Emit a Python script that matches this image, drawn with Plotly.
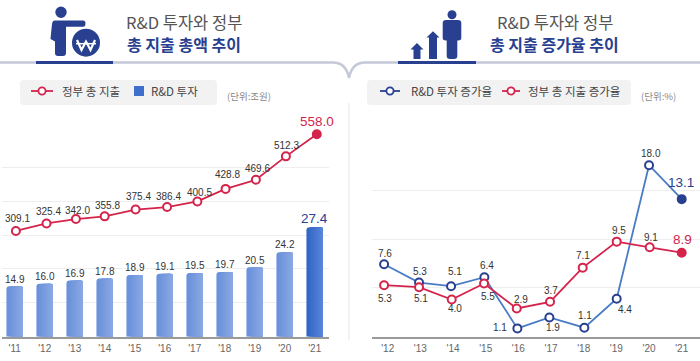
import plotly.graph_objects as go

# ---------- data ----------
years_left = [2011, 2012, 2013, 2014, 2015, 2016, 2017, 2018, 2019, 2020, 2021]
ticks_left = ["'11", "'12", "'13", "'14", "'15", "'16", "'17", "'18", "'19", "'20", "'21"]
invest_labels = ["14.9", "16.0", "16.9", "17.8", "18.9", "19.1", "19.5", "19.7", "20.5", "24.2", "27.4"]
invest_drawn = [14.85, 15.6, 16.6, 17.2, 18.2, 18.6, 18.8, 19.1, 20.45, 24.9, 32.3]
spend_labels = ["309.1", "325.4", "342.0", "355.8", "375.4", "386.4", "400.5", "428.8", "469.6", "512.3", "558.0"]
spend_drawn = [312, 334, 347, 355, 375, 382.5, 399, 436, 463, 532, 597]
spend_x = [2011.04, 2012.06, 2013.04, 2014.0, 2015.03, 2016.08, 2017.09, 2018.03, 2019.04, 2020.04, 2021.07]

years_right = [2012, 2013, 2014, 2015, 2016, 2017, 2018, 2019, 2020, 2021]
ticks_right = ["'12", "'13", "'14", "'15", "'16", "'17", "'18", "'19", "'20", "'21"]
rd_rate_labels = ["7.6", "5.3", "5.1", "6.4", "1.1", "1.9", "1.1", "4.4", "18.0", "13.1"]
rd_rate_drawn = [7.41, 5.54, 5.17, 6.09, 0.85, 1.97, 0.92, 3.88, 17.55, 14.08]
rd_rate_x = [2011.89, 2012.96, 2013.94, 2014.96, 2015.97, 2016.95, 2018.02, 2019.01, 2020.0, 2021.0]
gov_rate_labels = ["5.3", "5.1", "4.0", "5.5", "2.9", "3.7", "7.1", "9.5", "9.1", "8.9"]
gov_rate_drawn = [5.27, 5.07, 3.81, 5.44, 2.89, 3.57, 7.07, 9.73, 9.15, 8.6]
gov_rate_x = [2011.89, 2012.96, 2013.96, 2014.95, 2015.95, 2016.97, 2017.97, 2019.01, 2020.02, 2021.0]

# ---------- styles ----------
W, H = 700, 361
RED, NAVY, BLUE = "#d4244c", "#28408f", "#4a7cc6"
GRID, AXIS, TICK, DARK = "#eeeeee", "#9a9a9a", "#666666", "#333333"
RULE = "#c3c9d6"
KR = "Noto Sans CJK KR"
NUM = "Liberation Sans"

fig = go.Figure()


def mix(a, b, t):
    return "rgb(%d,%d,%d)" % tuple(a[i] + (b[i] - a[i]) * t for i in range(3))


# bars: soft left-to-right gradient built from overlapping layers
BAR_W, LAYERS = 0.55, 7
for k in range(LAYERS):
    t = k / (LAYERS - 1)
    colors = [mix((106, 145, 219), (137, 167, 227), t)] * (len(years_left) - 1)
    colors.append(mix((50, 101, 197), (88, 132, 217), t))
    shift = BAR_W * k / LAYERS
    fig.add_trace(go.Bar(x=years_left, y=invest_drawn, width=BAR_W - shift, offset=-BAR_W / 2 + shift,
                         marker=dict(color=colors, line_width=0), xaxis="x", yaxis="y",
                         name="R&D 투자", showlegend=False, hoverinfo="skip"))


def line(x, y, color, mark, xa, ya, name):
    fills = ["white"] * (len(y) - 1) + [mark]
    fig.add_trace(go.Scatter(x=x, y=y, mode="lines+markers", xaxis=xa, yaxis=ya, name=name, showlegend=False,
                             line=dict(color=color, width=1.8), cliponaxis=False,
                             marker=dict(size=8, color=fills, line=dict(color=mark, width=2))))


line(spend_x, spend_drawn, RED, RED, "x", "y3", "정부 총 지출")
line(rd_rate_x, rd_rate_drawn, BLUE, NAVY, "x2", "y2", "R&D 투자 증가율")
line(gov_rate_x, gov_rate_drawn, RED, RED, "x2", "y2", "정부 총 지출 증가율")

ann = []


def txt(x, y, s, size=10, color=DARK, font=NUM, anchor="center", bold=False):
    ann.append(dict(x=x / W, y=1 - y / H, xref="paper", yref="paper", text=f"<b>{s}</b>" if bold else s,
                    showarrow=False, xanchor=anchor, yanchor="middle",
                    font=dict(size=size, color=color, family=font)))


def dlabel(x, y, s, xa, ya, dx, dy, size=10, color=DARK):
    ann.append(dict(x=x, y=y, xref=xa, yref=ya, text=s, showarrow=False, xanchor="center", yanchor="middle",
                    xshift=dx, yshift=dy, font=dict(size=size, color=color, family=NUM)))


# left chart labels
spend_dy = [12.7, 12, 9, 10.7, 13, 11, 9.3, 14.3, 11.7, 11, 12.7]
spend_dx = [1.3, 2, 1.7, 2.7, 2.7, 1, 1.7, 1.7, 1.3, 0.7, 0]
for i, s in enumerate(spend_labels):
    last = i == len(spend_labels) - 1
    dlabel(spend_x[i], spend_drawn[i], s, "x", "y3", spend_dx[i], spend_dy[i],
           13.5 if last else 10, RED if last else DARK)
for i, s in enumerate(invest_labels):
    last = i == len(invest_labels) - 1
    dlabel(years_left[i], invest_drawn[i], s, "x", "y", 0, 9 if last else 7.3,
           13.5 if last else 10, NAVY if last else DARK)

# right chart labels
rd_dx = [1, 0.7, 4.3, 3, -17.7, 3.3, 0.3, 8.3, 1.7, -0.7]
rd_dy = [11.3, 11, 14.3, 11.7, 1.3, -10, 12, -11, 11.3, 16.7]
gov_dx = [1, 1.7, 3.3, 4, 4, 1, 0, 2.7, 1.3, 0.7]
gov_dy = [-13.3, -11, -8.7, -13.3, 9.3, 11.3, 11.7, 10.7, 9.7, 13.3]
for i, s in enumerate(rd_rate_labels):
    last = i == len(rd_rate_labels) - 1
    dlabel(rd_rate_x[i], rd_rate_drawn[i], s, "x2", "y2", rd_dx[i], rd_dy[i],
           13.5 if last else 10, NAVY if last else DARK)
for i, s in enumerate(gov_rate_labels):
    last = i == len(gov_rate_labels) - 1
    dlabel(gov_rate_x[i], gov_rate_drawn[i], s, "x2", "y2", gov_dx[i], gov_dy[i],
           13.5 if last else 10, RED if last else DARK)

# headers
txt(184, 22.5, "R&D 투자와 정부", 16.5, "#555555", KR)
txt(184, 44, "총 지출 총액 추이", 16, NAVY, KR, bold=True)
txt(554.5, 22.5, "R&D 투자와 정부", 16.5, "#555555", KR)
txt(554.5, 44, "총 지출 증가율 추이", 16, NAVY, KR, bold=True)

# legends
txt(60, 91, "정부 총 지출", 11.5, "#444444", KR, "left")
txt(149, 91, "R&D 투자", 11.5, "#444444", KR, "left")
txt(225, 96, "(단위:조원)", 9.5, "#888888", KR, "left")
txt(409, 91, "R&D 투자 증가율", 11.5, "#444444", KR, "left")
txt(526, 91, "정부 총 지출 증가율", 11.5, "#444444", KR, "left")
txt(639, 96, "(단위:%)", 9.5, "#888888", KR, "left")

shapes = []


def px(x, y):
    return f"{x / W:.5f},{1 - y / H:.5f}"


def path(d, fill=None, color=None, width=0, layer="above"):
    out = []
    for tok in d.split():
        if "," in tok:
            a, b = tok.split(",")
            out.append(px(float(a), float(b)))
        else:
            out.append(tok)
    s = dict(type="path", xref="paper", yref="paper", path=" ".join(out), layer=layer,
             line=dict(color=color or "rgba(0,0,0,0)", width=width))
    if fill:
        s["fillcolor"] = fill
    shapes.append(s)


def circle(cx, cy, rx, ry=None, fill="white", color=None, width=0):
    ry = ry or rx
    shapes.append(dict(type="circle", xref="paper", yref="paper", x0=(cx - rx) / W, x1=(cx + rx) / W,
                       y0=1 - (cy + ry) / H, y1=1 - (cy - ry) / H, fillcolor=fill,
                       line=dict(color=color or "rgba(0,0,0,0)", width=width)))


# header rule with notch
path("M 0,62.5 L 333,62.5 Q 346,62.5 349,78 Q 352,62.5 365,62.5 L 700,62.5", None, RULE, 2.4)
path("M 36,62.5 L 113,62.5", None, NAVY, 3)
path("M 398,62.5 L 476,62.5", None, NAVY, 3)
path("M 349,103 L 349,340", None, "#e6e6e6", 1)

# legend boxes
path("M 24,80 L 213,80 Q 217,80 217,84 L 217,101 Q 217,105 213,105 L 24,105 Q 20,105 20,101 L 20,84 Q 20,80 24,80 Z",
     "#f2f2f3", layer="below")
path("M 371,80 L 627,80 Q 631,80 631,84 L 631,101 Q 631,105 627,105 L 371,105 Q 367,105 367,101 L 367,84 Q 367,80 371,80 Z",
     "#f2f2f3", layer="below")
for x0, x1, c in [(31, 53, RED), (380, 400, NAVY), (502, 520, RED)]:
    path(f"M {x0},91 L {x1},91", None, c, 1.8)
    circle((x0 + x1) / 2, 91, 3.6, fill="white", color=c, width=1.8)
path("M 134,86 L 144,86 L 144,96 L 134,96 Z", "#3d6fcb")

# person + coin icon
circle(61, 12.3, 5.7, fill=NAVY)
path("M 55,20.5 L 83,20.5 Q 85.5,20.5 85.5,23.5 Q 85.5,26.7 83,26.7 L 66,26.7 L 66,53 Q 66,56 63,56 "
     "L 58,56 Q 55,56 55,53 L 55,41.5 L 50.5,39 L 52,24 Q 52.5,20.5 55,20.5 Z", NAVY)
circle(86, 42.7, 15.5, fill="white")
circle(86, 42.7, 14, fill=NAVY)
path("M 77,40 L 81.5,50 L 86,41.5 L 90.5,50 L 95,40", None, "white", 2.2)
path("M 76,43.7 L 96,43.7", None, "white", 1.5)

# arrows + person icon
circle(452, 14.7, 4.5, fill=NAVY)
path("M 446,20 L 458,20 Q 461.3,20 461.3,23 L 461.3,38 Q 461.3,40.5 458,40.5 L 457.3,40.5 L 457.3,56 Q 457.3,59 454,59 "
     "L 450,59 Q 446.7,59 446.7,56 L 446.7,40.5 L 446,40.5 Q 442.7,40.5 442.7,38 L 442.7,23 Q 442.7,20 446,20 Z", NAVY)
path("M 417,43 L 423.5,49.5 L 420.5,49.5 L 420.5,59 L 413.5,59 L 413.5,49.5 L 410.5,49.5 Z", NAVY)
path("M 433,31.3 L 439.5,37.5 L 437,37.5 L 437,59 L 429,59 L 429,37.5 L 426.5,37.5 Z", NAVY)

TICKFONT = dict(size=10, color=TICK, family=NUM)
BASE = 336.7


def yaxis(top, rng, dtick, xa):
    return dict(domain=[(H - BASE) / H, (H - top) / H], range=rng, dtick=dtick, anchor=xa, showticklabels=False,
                ticks="", showgrid=True, gridcolor=GRID, gridwidth=1, zeroline=False, showline=False, fixedrange=True)


def xaxis(domain, rng, vals, text, ya):
    return dict(domain=domain, range=rng, tickmode="array", tickvals=vals, ticktext=text, anchor=ya, showgrid=False,
                zeroline=False, showline=True, linecolor=AXIS, linewidth=1.5, ticks="", tickfont=TICKFONT,
                ticklabelstandoff=2, fixedrange=True)


y3 = yaxis(133.3, [0, 600], 100, "x")
y3.update(overlaying="y", showgrid=False)

fig.update_layout(
    width=W, height=H, margin=dict(l=0, r=0, t=0, b=0), autosize=False,
    paper_bgcolor="white", plot_bgcolor="rgba(0,0,0,0)", showlegend=False,
    barmode="overlay", barcornerradius=3, hovermode=False,
    xaxis=xaxis([2 / W, 329 / W], [2010.577, 2021.477], years_left, ticks_left, "y"),
    yaxis=yaxis(133.3, [0, 60], 10, "x"),
    yaxis3=y3,
    xaxis2=xaxis([372 / W, 1], [2011.52, 2021.56], years_right, ticks_right, "y2"),
    yaxis2=yaxis(141.3, [0, 20], 5, "x2"),
    annotations=ann, shapes=shapes,
)

fig.write_html("out.html", config={"displayModeBar": False},
               post_script="document.body.style.margin='0';document.body.style.overflow='hidden';")
